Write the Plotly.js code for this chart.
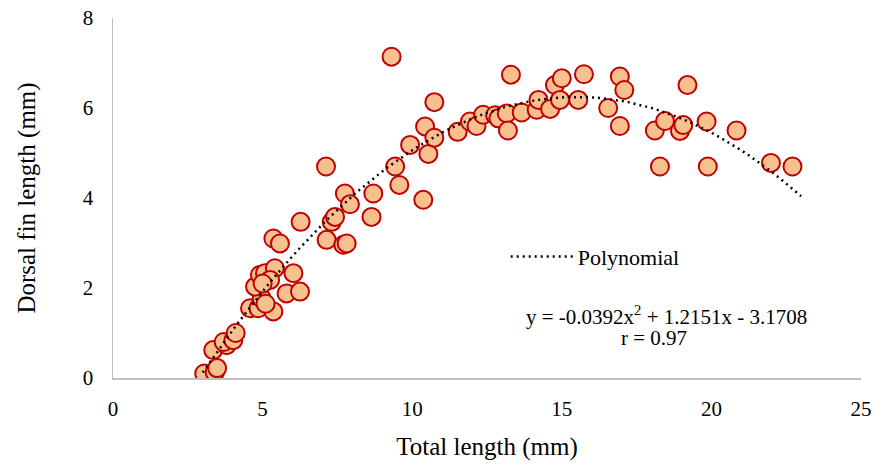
<!DOCTYPE html>
<html>
<head>
<meta charset="utf-8">
<script src="https://cdn.plot.ly/plotly-3.0.1.min.js"></script>
<style>html,body{margin:0;padding:0;background:#fff;}#chart{width:875px;height:464px;}</style>
</head>
<body>
<div id="chart"></div>
<script>
// Observed points: total length (mm) and dorsal fin length (mm)
const totalLength = [3.05, 3.40, 3.35, 3.48, 3.80, 3.70, 4.02, 4.10, 4.58, 4.86,
  5.36, 4.97, 5.10, 4.75, 4.91, 5.08, 5.41, 5.25, 5.00, 5.80,
  6.03, 6.25, 5.36, 5.58, 6.27, 7.12, 7.14, 7.70, 7.81, 7.31,
  7.42, 7.75, 7.92, 8.70, 8.64, 9.31, 9.43, 9.57, 9.93, 10.37,
  10.43, 10.54, 10.74, 10.74, 11.52, 11.93, 12.15, 12.37, 12.77, 12.88,
  13.16, 13.20, 13.30, 13.66, 14.16, 14.22, 14.61, 14.77, 15.00, 14.94,
  15.55, 15.74, 16.55, 16.94, 17.09, 16.94, 18.11, 18.28, 18.45, 18.95,
  19.06, 19.20, 19.84, 19.88, 20.84, 21.99, 22.71];
const dorsalFin = [0.10, 0.12, 0.62, 0.22, 0.73, 0.80, 0.84, 1.00, 1.55, 1.55,
  1.48, 1.77, 1.65, 2.03, 2.29, 2.33, 2.44, 2.18, 2.10, 1.88,
  2.33, 1.92, 3.10, 2.99, 3.47, 4.70, 3.07, 2.96, 2.99, 3.47,
  3.58, 4.10, 3.86, 4.10, 3.58, 7.14, 4.70, 4.29, 5.18, 3.96,
  5.59, 4.98, 5.34, 6.13, 5.47, 5.70, 5.60, 5.85, 5.84, 5.77,
  5.88, 5.50, 6.74, 5.90, 5.96, 6.18, 5.98, 6.51, 6.66, 6.18,
  6.18, 6.75, 6.00, 6.70, 6.40, 5.60, 5.50, 4.70, 5.71, 5.49,
  5.62, 6.51, 5.70, 4.70, 5.50, 4.78, 4.70];

// Polynomial trendline as printed on the chart: y = a x^2 + b x + c
const polyCoef = [-0.0392, 1.2151, -3.1708];
const trendRange = [3, 23];
const equationText = "y = -0.0392x<sup>2</sup> + 1.2151x - 3.1708";
const rText = "r = 0.97";
const xTicks = [0, 5, 10, 15, 20, 25];
const yTicks = [0, 2, 4, 6, 8];

const trendX = [], trendY = [];
for (let i = 0; i <= 80; i++) {
  const x = trendRange[0] + (trendRange[1] - trendRange[0]) * i / 80;
  trendX.push(x);
  trendY.push(polyCoef[0] * x * x + polyCoef[1] * x + polyCoef[2]);
}

const font = "Liberation Serif, Times New Roman, serif";

const traces = [
  {
    x: totalLength, y: dorsalFin, type: "scatter", mode: "markers",
    showlegend: false, hoverinfo: "skip",
    marker: { size: 18, color: "#F9C08F", line: { color: "#C00000", width: 2 } }
  },
  {
    x: trendX, y: trendY, type: "scatter", mode: "lines", name: "Polynomial",
    line: { color: "#000000", width: 2.5, dash: "2px,4px" }, hoverinfo: "skip"
  }
];

const layout = {
  width: 875, height: 464,
  margin: { l: 113, r: 14, t: 18, b: 86 },
  paper_bgcolor: "#ffffff", plot_bgcolor: "#ffffff",
  font: { family: font, color: "#000000", size: 20 },
  xaxis: {
    range: [0, 25], tickvals: xTicks, showgrid: false, zeroline: false,
    showline: true, linecolor: "#bfbfbf", linewidth: 1.5,
    ticks: "outside", ticklen: 11, tickcolor: "rgba(0,0,0,0)",
    tickfont: { family: font, size: 21 },
    title: { text: "Total length (mm)", font: { family: font, size: 25 }, standoff: 18 }
  },
  yaxis: {
    range: [0, 8], tickvals: yTicks, showgrid: false, zeroline: false,
    showline: true, linecolor: "#bfbfbf", linewidth: 1.5,
    ticks: "outside", ticklen: 14, tickcolor: "rgba(0,0,0,0)",
    tickfont: { family: font, size: 21 },
    title: { text: "Dorsal fin length (mm)", font: { family: font, size: 25 }, standoff: 40 }
  },
  showlegend: true,
  legend: {
    x: 0.525, y: 0.337, xanchor: "left", yanchor: "middle", itemwidth: 62,
    bgcolor: "rgba(0,0,0,0)", font: { family: font, size: 22 }
  },
  annotations: [
    { xref: "paper", yref: "paper", x: (666 - 113) / 748, y: (378 - 315) / 360,
      text: equationText, showarrow: false, xanchor: "center", yanchor: "middle",
      font: { family: font, size: 21 } },
    { xref: "paper", yref: "paper", x: (654 - 113) / 748, y: (378 - 338) / 360,
      text: rText, showarrow: false, xanchor: "center", yanchor: "middle",
      font: { family: font, size: 21 } }
  ]
};

Plotly.newPlot("chart", traces, layout, { displayModeBar: false, staticPlot: true });
</script>
</body>
</html>
